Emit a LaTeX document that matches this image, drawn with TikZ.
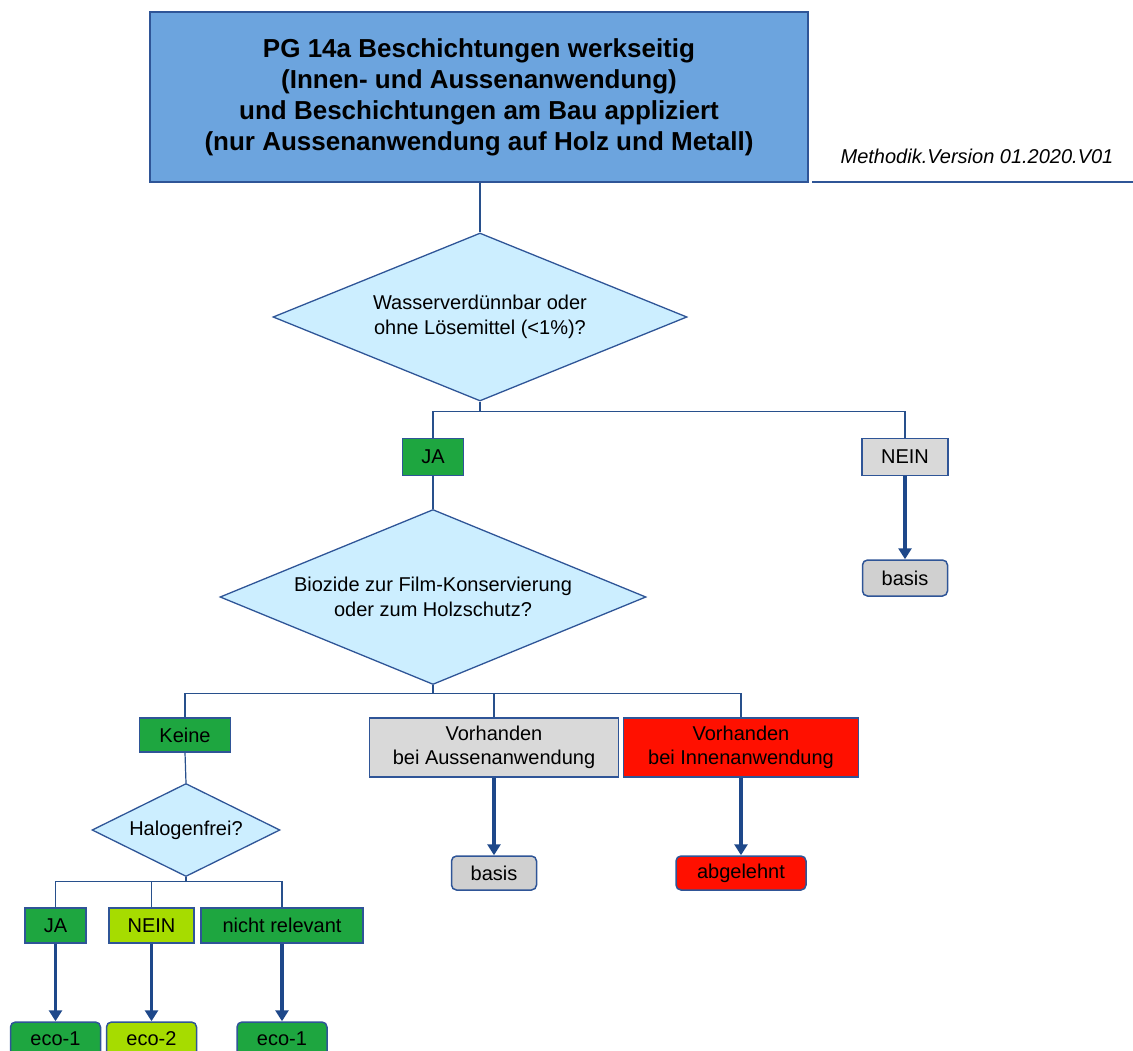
\documentclass[tikz,border=0pt]{standalone}
\usepackage{fontspec}
\setmainfont{Liberation Sans}
\usepackage{tikz}
\usetikzlibrary{arrows.meta, shapes.geometric, positioning}

\definecolor{titelblau}{RGB}{108,164,222}
\definecolor{rahmen}{RGB}{47,85,151}
\definecolor{verbinder}{RGB}{40,80,140}
\definecolor{pfeilblau}{RGB}{30,72,138}
\definecolor{raute}{RGB}{204,238,255}
\definecolor{gruen}{RGB}{30,166,64}
\definecolor{hellgruen}{RGB}{166,220,0}
\definecolor{grau}{RGB}{217,217,217}
\definecolor{dunkelgrau}{RGB}{208,208,208}
\definecolor{rot}{RGB}{255,16,0}

\tikzset{
    box/.style={draw=rahmen, line width=1.5pt, inner sep=0pt, align=center,
        font=\fontsize{20}{24}\selectfont},
    ergebnis/.style={box, rounded corners=5pt},
    frage/.style={diamond, draw=rahmen, fill=raute, line width=1.3pt, inner sep=0pt,
        aspect=2.4, align=center, font=\fontsize{20}{25}\selectfont},
    linie/.style={draw=verbinder, line width=1.2pt},
    pfeil/.style={draw=pfeilblau, line width=3.5pt, -{Triangle[width=13pt,length=11pt]}}
}

\begin{document}
\begin{tikzpicture}[x=1pt, y=-1pt]
    \useasboundingbox (0,0) rectangle (1133,1050);

    % Kopf
    \node[box, fill=titelblau, minimum width=658pt, minimum height=170pt,
        font=\fontsize{26}{31}\selectfont\bfseries] (titel) at (479,97)
        {PG 14a Beschichtungen werkseitig\\(Innen- und Aussenanwendung)\\und Beschichtungen am Bau appliziert\\(nur Aussenanwendung auf Holz und Metall)};
    \node[font=\fontsize{20}{24}\selectfont\itshape] (version) at (977,156) {Methodik.Version 01.2020.V01};
    \coordinate (strichA) at (812,182);
    \coordinate (strichB) at (1133,182);
    \draw[draw=rahmen, line width=1.3pt] (strichA) -- (strichB);

    % erste Frage
    \node[frage, minimum width=414pt, minimum height=168pt] (loesemittel) at (480,317)
        {Wasserverdünnbar oder\\ohne Lösemittel (<1\%)?};
    \node[box, fill=gruen, minimum width=61pt, minimum height=37pt] (ja1) at (433,457) {JA};
    \node[box, fill=grau, minimum width=86pt, minimum height=37pt] (nein1) at (905,457) {NEIN};
    \node[ergebnis, fill=dunkelgrau, minimum width=85pt, minimum height=36pt] (basis1) at (905,578) {basis};

    % zweite Frage
    \node[frage, minimum width=426pt, minimum height=175pt] (biozide) at (433,597)
        {Biozide zur Film-Konservierung\\oder zum Holzschutz?};
    \node[box, fill=gruen, minimum width=91pt, minimum height=34pt] (keine) at (185,735) {Keine};
    \node[box, fill=grau, minimum width=249pt, minimum height=59pt] (aussen) at (494,747.5) {Vorhanden\\bei Aussenanwendung};
    \node[box, fill=rot, minimum width=235pt, minimum height=59pt] (innen) at (741,747.5) {Vorhanden\\bei Innenanwendung};
    \node[ergebnis, fill=dunkelgrau, minimum width=85pt, minimum height=34pt] (basis2) at (494,873) {basis};
    \node[ergebnis, fill=rot, minimum width=130pt, minimum height=34pt] (abgelehnt) at (741,873) {abgelehnt};

    % dritte Frage
    \node[frage, minimum width=188pt, minimum height=93pt] (halogen) at (186,830) {Halogenfrei?};
    \node[box, fill=gruen, minimum width=61pt, minimum height=35pt] (ja2) at (55.5,925.5) {JA};
    \node[box, fill=hellgruen, minimum width=85pt, minimum height=35pt] (nein2) at (151.5,925.5) {NEIN};
    \node[box, fill=gruen, minimum width=162pt, minimum height=35pt] (nichtrel) at (282,925.5) {nicht relevant};
    \node[ergebnis, fill=gruen, minimum width=90pt, minimum height=34pt] (eco1a) at (55.5,1039) {eco-1};
    \node[ergebnis, fill=hellgruen, minimum width=90pt, minimum height=34pt] (eco2) at (151.5,1039) {eco-2};
    \node[ergebnis, fill=gruen, minimum width=90pt, minimum height=34pt] (eco1b) at (282,1039) {eco-1};

    % Verbindungen
    \draw[linie] (titel.south -| loesemittel.north) -- (loesemittel.north);
    \draw[linie] (loesemittel.south) -- ++(0,10) coordinate (gabel1);
    \draw[linie] (ja1.north) |- (gabel1) -| (nein1.north);
    \draw[linie] (ja1.south) -- (biozide.north);
    \draw[linie] (biozide.south) -- ++(0,8) coordinate (gabel2);
    \draw[linie] (keine.north) |- (gabel2) -| (innen.north);
    \draw[linie] (gabel2 -| aussen.north) -- (aussen.north);
    \draw[linie] (keine.south) -- (halogen.north);
    \draw[linie] (halogen.south) -- ++(0,4) coordinate (gabel3);
    \draw[linie] (ja2.north) |- (gabel3) -| (nichtrel.north);
    \draw[linie] (gabel3 -| nein2.north) -- (nein2.north);

    \draw[pfeil] (nein1.south) -- (basis1.north);
    \draw[pfeil] (aussen.south) -- (basis2.north);
    \draw[pfeil] (innen.south) -- (abgelehnt.north);
    \draw[pfeil] (ja2.south) -- (eco1a.north);
    \draw[pfeil] (nein2.south) -- (eco2.north);
    \draw[pfeil] (nichtrel.south) -- (eco1b.north);
\end{tikzpicture}
\end{document}
